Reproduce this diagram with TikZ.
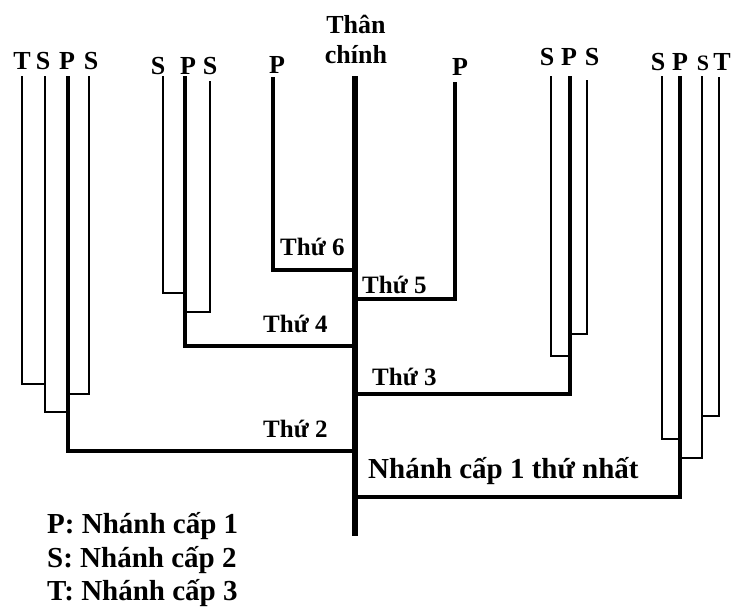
\documentclass[tikz,border=0pt]{standalone}
\usepackage{fontspec}
\setmainfont{Liberation Serif}
\begin{document}
\begin{tikzpicture}[x=1pt,y=-1pt,
  thinb/.style={line width=2.2pt,line join=miter},
  pb/.style={line width=3.2pt,line join=miter},
  trunkb/.style={line width=5.5pt},
  lett/.style={anchor=base,inner sep=0pt,font=\fontsize{26}{28}\selectfont\bfseries},
  thu/.style={anchor=base west,inner sep=0pt,font=\fontsize{25}{28}\selectfont\bfseries},
  big/.style={anchor=base west,inner sep=0pt,font=\fontsize{29}{33}\selectfont\bfseries}]
\useasboundingbox (0,0) rectangle (732,608);
% trunk
\coordinate (trT) at (355,76);
\coordinate (trB) at (355,536);
\draw[trunkb] (trT) -- (trB);
\node[anchor=base,inner sep=0pt,font=\fontsize{26}{30}\selectfont\bfseries] (than1) at (356,33) {Thân};
\node[anchor=base,inner sep=0pt,font=\fontsize{26}{30}\selectfont\bfseries] (than2) at (356,63) {chính};
% --- Thu 2 group
\coordinate (p2t) at (68,76); \coordinate (p2e) at (355,451);
\draw[pb] (p2t) |- (p2e);
\coordinate (t2t) at (22,76); \coordinate (t2e) at (45,384);
\draw[thinb] (t2t) |- (t2e);
\coordinate (s2at) at (45,76); \coordinate (s2ae) at (68,412);
\draw[thinb] (s2at) |- (s2ae);
\coordinate (s2bt) at (89,76); \coordinate (s2be) at (68,394);
\draw[thinb] (s2bt) |- (s2be);
\node[lett] (lT2) at (22,69) {T};
\node[lett] (lS2a) at (43,69) {S};
\node[lett] (lP2) at (67,69) {P};
\node[lett] (lS2b) at (91,69) {S};
\node[thu] (th2) at (263,437) {Thứ 2};
% --- Thu 4 group
\coordinate (p4t) at (185,76); \coordinate (p4e) at (355,346);
\draw[pb] (p4t) |- (p4e);
\coordinate (s4at) at (163,76); \coordinate (s4ae) at (185,293);
\draw[thinb] (s4at) |- (s4ae);
\coordinate (s4bt) at (210,81); \coordinate (s4be) at (185,312);
\draw[thinb] (s4bt) |- (s4be);
\node[lett] (lS4a) at (158,74) {S};
\node[lett] (lP4) at (188,74) {P};
\node[lett] (lS4b) at (210,74) {S};
\node[thu] (th4) at (263,332) {Thứ 4};
% --- Thu 6
\coordinate (p6t) at (273,77); \coordinate (p6e) at (355,270);
\draw[pb] (p6t) |- (p6e);
\node[lett] (lP6) at (277,73) {P};
\node[thu] (th6) at (280,255) {Thứ 6};
% --- Thu 5
\coordinate (p5t) at (455,82); \coordinate (p5e) at (355,299);
\draw[pb] (p5t) |- (p5e);
\node[lett] (lP5) at (460,75) {P};
\node[thu] (th5) at (362,293) {Thứ 5};
% --- Thu 3 group
\coordinate (p3t) at (570,76); \coordinate (p3e) at (355,394);
\draw[pb] (p3t) |- (p3e);
\coordinate (s3at) at (551,76); \coordinate (s3ae) at (570,356);
\draw[thinb] (s3at) |- (s3ae);
\coordinate (s3bt) at (587,80); \coordinate (s3be) at (570,334);
\draw[thinb] (s3bt) |- (s3be);
\node[lett] (lS3a) at (547,65) {S};
\node[lett] (lP3) at (569,65) {P};
\node[lett] (lS3b) at (592,65) {S};
\node[thu] (th3) at (372,385) {Thứ 3};
% --- first group
\coordinate (p1t) at (680,76); \coordinate (p1e) at (355,497);
\draw[line width=4.5pt,line join=miter] (p1t) |- (p1e);
\coordinate (s1at) at (662,76); \coordinate (s1ae) at (680,439);
\draw[thinb] (s1at) |- (s1ae);
\coordinate (s1bt) at (702,76); \coordinate (s1be) at (680,458);
\draw[thinb] (s1bt) |- (s1be);
\coordinate (t1t) at (719,77); \coordinate (t1e) at (702,416);
\draw[thinb] (t1t) |- (t1e);
\node[lett] (lS1a) at (658,70) {S};
\node[lett] (lP1) at (680,70) {P};
\node[lett,font=\fontsize{22}{24}\selectfont\bfseries] (lS1b) at (703,70) {S};
\node[lett] (lT1) at (722,70) {T};
\node[big] (th1) at (368,478) {Nhánh cấp 1 thứ nhất};
% legend
\node[big] (leg1) at (47,533) {P: Nhánh cấp 1};
\node[big] (leg2) at (47,567) {S: Nhánh cấp 2};
\node[big] (leg3) at (47,600) {T: Nhánh cấp 3};
\end{tikzpicture}
\end{document}
